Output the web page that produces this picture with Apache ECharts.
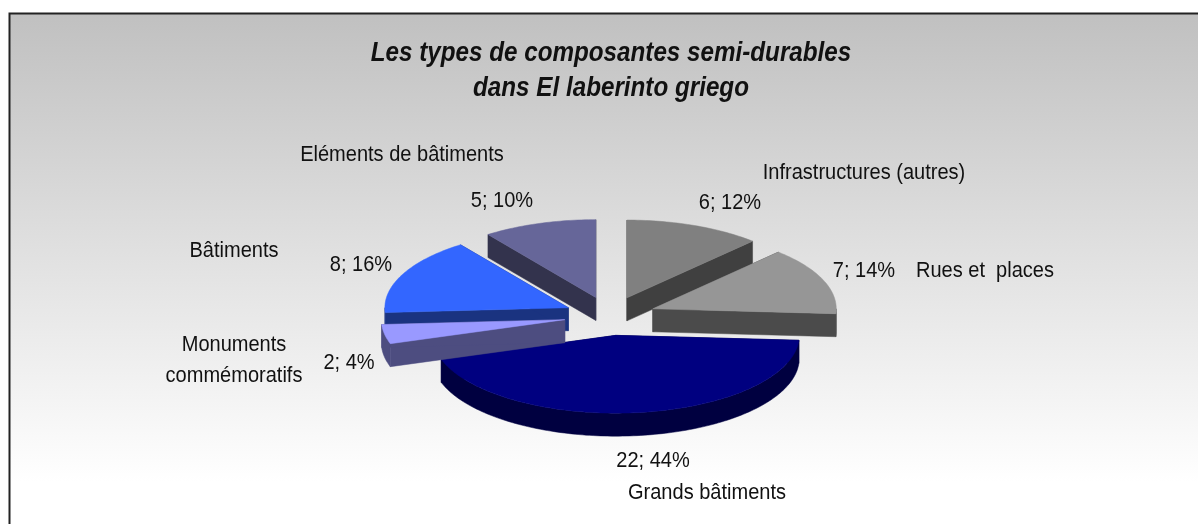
<!DOCTYPE html>
<html>
<head>
<meta charset="utf-8">
<style>
  html, body { margin: 0; padding: 0; background: #fff; }
  #pieChart { width: 1198px; height: 524px; }
</style>
<script src="https://cdn.jsdelivr.net/npm/echarts@6/dist/echarts.min.js"></script>
</head>
<body>
<div id="pieChart"></div>
<script>
var titleLines = ["Les types de composantes semi-durables", "dans El laberinto griego"];
var categories = ["Infrastructures (autres)", "Rues et  places", "Grands bâtiments", "Monuments\ncommémoratifs", "Bâtiments", "Eléments de bâtiments"];
var values = [6, 7, 22, 2, 8, 5];
var colors = ["#808080", "#969696", "#000080", "#9999ff", "#3366ff", "#666699"];
var sideColors = ["#404040", "#4b4b4b", "#000040", "#4d4d80", "#1a3380", "#33334d"];

// label centres, hand placed like in the original
var nameAnchors = [[864, 173], [985, 271], [707, 493], [234, 360.5], [234, 251], [402, 155]];
var valueAnchors = [[730, 203], [864, 271], [653, 461], [349, 363], [361, 265], [502, 201]];

// pie shape
var cx = 610, cy = 316, radius = 183.5, tilt = 0.424, depth = 23, explode = 46;
var paintOrder = [5, 0, 1, 4, 2, 3];

var total = values.reduce(function (a, b) { return a + b; }, 0);
var angles = [], sum = 0;
values.forEach(function (v) {
  angles.push([sum / total * 2 * Math.PI, (sum + v) / total * 2 * Math.PI]);
  sum += v;
});

function pointAt(c, a) {
  return [c[0] + radius * Math.sin(a), c[1] - radius * tilt * Math.cos(a)];
}
function down(p) {
  return [p[0], p[1] + depth];
}
function arcPoints(c, a0, a1) {
  var pts = [], n = Math.max(2, Math.ceil((a1 - a0) / 0.02));
  for (var i = 0; i <= n; i++) {
    pts.push(pointAt(c, a0 + (a1 - a0) * i / n));
  }
  return pts;
}
function poly(points, fill) {
  return { type: "polygon", shape: { points: points }, style: { fill: fill, stroke: fill, lineWidth: 0.5 } };
}
function label(text, pos) {
  return {
    type: "text", x: pos[0], y: pos[1], scaleX: 0.91,
    style: { text: text, align: "center", verticalAlign: "middle", fill: "#111", lineHeight: 31, font: "22px 'Liberation Sans'" }
  };
}

function renderSlice(params) {
  var i = paintOrder[params.dataIndex];
  var a0 = angles[i][0], a1 = angles[i][1], mid = (a0 + a1) / 2;
  var c = [cx + explode * Math.sin(mid), cy - explode * tilt * Math.cos(mid)];
  var p0 = pointAt(c, a0), p1 = pointAt(c, a1);
  var children = [];
  // cut faces
  children.push(poly([c, p0, down(p0), down(c)], sideColors[i]));
  children.push(poly([c, p1, down(p1), down(c)], sideColors[i]));
  // rim, only the front half of the ellipse shows
  var r0 = Math.max(a0, Math.PI / 2), r1 = Math.min(a1, Math.PI * 1.5);
  if (r1 > r0) {
    var rim = arcPoints(c, r0, r1);
    children.push(poly(rim.concat(rim.map(down).reverse()), sideColors[i]));
  }
  children.push(poly([c].concat(arcPoints(c, a0, a1)), colors[i]));
  children.push(label(categories[i], nameAnchors[i]));
  children.push(label(values[i] + "; " + Math.round(values[i] / total * 100) + "%", valueAnchors[i]));
  return { type: "group", children: children };
}

var pieChart = echarts.init(document.getElementById("pieChart"));
pieChart.setOption({
  animation: false,
  graphic: [{
    type: "rect",
    z: 0,
    shape: { x: 9.5, y: 13.5, width: 1200, height: 520 },
    style: {
      stroke: "#222",
      lineWidth: 2,
      fill: new echarts.graphic.LinearGradient(0, 0, 0, 1, [
        { offset: 0, color: "#c0c0c0" },
        { offset: 0.9, color: "#ffffff" }
      ])
    }
  }, {
    type: "text",
    z: 1,
    x: 611,
    y: 71.5,
    scaleX: 0.897,
    style: {
      text: titleLines.join("\n"),
      align: "center",
      verticalAlign: "middle",
      fill: "#111",
      lineHeight: 35,
      font: "italic bold 27px 'Liberation Sans'"
    }
  }],
  series: [{
    type: "custom",
    coordinateSystem: "none",
    renderItem: renderSlice,
    data: paintOrder.map(function (i) { return values[i]; })
  }]
});
</script>
</body>
</html>
